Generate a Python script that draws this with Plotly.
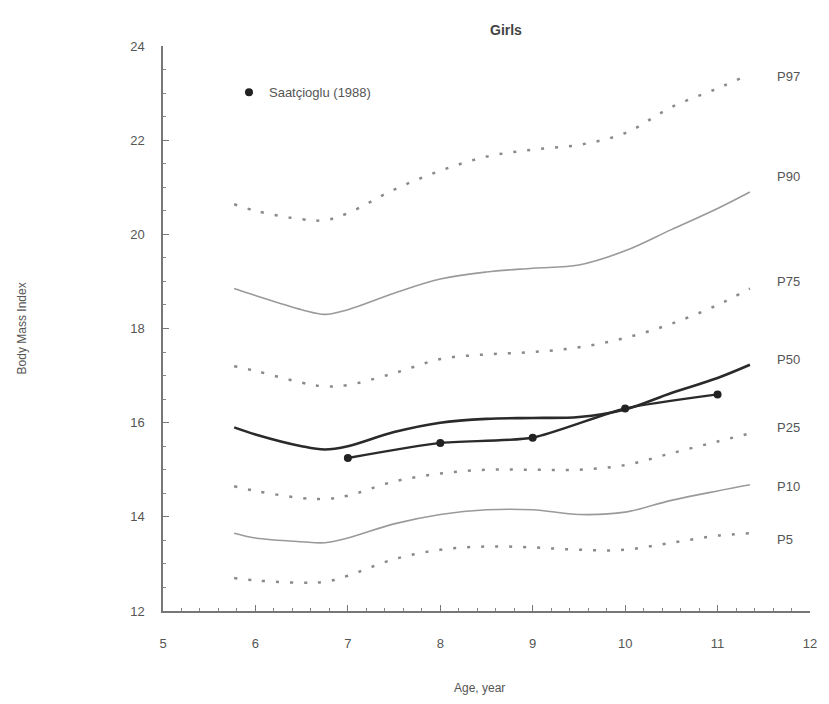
import plotly.graph_objects as go

# Age grid for percentile curves (years)
ages = [5.77, 6.0, 6.5, 6.75, 7.0, 7.5, 8.0, 8.5, 9.0, 9.5, 10.0, 10.5, 11.0, 11.35]

p97 = [20.64, 20.5, 20.32, 20.3, 20.45, 20.95, 21.35, 21.65, 21.8, 21.9, 22.15, 22.7, 23.1, 23.4]
p90 = [18.85, 18.7, 18.4, 18.3, 18.4, 18.75, 19.05, 19.2, 19.28, 19.35, 19.65, 20.1, 20.55, 20.9]
p75 = [17.2, 17.1, 16.85, 16.77, 16.8, 17.05, 17.35, 17.45, 17.5, 17.6, 17.8, 18.1, 18.5, 18.85]
p50 = [15.9, 15.75, 15.5, 15.43, 15.5, 15.8, 16.0, 16.08, 16.1, 16.12, 16.28, 16.63, 16.95, 17.23]
p25 = [14.65, 14.55, 14.4, 14.38, 14.45, 14.75, 14.92, 15.0, 15.0, 15.0, 15.1, 15.35, 15.6, 15.77]
p10 = [13.65, 13.55, 13.47, 13.45, 13.55, 13.85, 14.05, 14.15, 14.15, 14.05, 14.1, 14.35, 14.55, 14.68]
p5 = [12.7, 12.65, 12.6, 12.62, 12.75, 13.1, 13.3, 13.37, 13.35, 13.3, 13.3, 13.45, 13.6, 13.65]

# Saatcioglu (1988) reference data
saat_ages = [7, 8, 9, 10, 11]
saat_bmi = [15.25, 15.57, 15.68, 16.3, 16.6]

labels = ["P97", "P90", "P75", "P50", "P25", "P10", "P5"]
label_y = [23.36, 21.23, 19.0, 17.34, 15.89, 14.64, 13.51]
label_x = 11.62

x_ticks = [5, 6, 7, 8, 9, 10, 11, 12]
y_ticks = [12, 14, 16, 18, 20, 22, 24]

FONT = "Liberation Sans, Arial, sans-serif"
TXT = "#555555"
DOT = dict(color="#8a8a8a", width=2.5, dash="3px,11px")
THIN = dict(color="#9a9a9a", width=1.6)

fig = go.Figure()
series = [(p97, DOT), (p90, THIN), (p75, DOT), (p50, dict(color="#2a2a2a", width=2.6)),
          (p25, DOT), (p10, THIN), (p5, DOT)]
for ys, ln in series:
    fig.add_trace(go.Scatter(x=ages, y=ys, mode="lines", line=dict(shape="spline", **ln),
                             showlegend=False, hoverinfo="skip"))

fig.add_trace(go.Scatter(x=saat_ages, y=saat_bmi, mode="lines+markers",
                         line=dict(color="#2a2a2a", width=2.4, shape="spline", smoothing=0.6),
                         marker=dict(color="#222222", size=8), showlegend=False))
fig.add_trace(go.Scatter(x=[None], y=[None], mode="markers", name="Saatçioglu (1988)",
                         marker=dict(color="#222222", size=8), showlegend=True))

for lab, ly in zip(labels, label_y):
    fig.add_annotation(x=label_x, y=ly, text=lab, showarrow=False, xanchor="left",
                       yanchor="middle", font=dict(family=FONT, size=13, color=TXT))

fig.add_annotation(xref="paper", yref="paper", x=0.53, y=1.028, yanchor="middle", text="<b>Girls</b>",
                   showarrow=False, font=dict(family=FONT, size=14, color="#444444"))
fig.add_annotation(xref="paper", yref="paper", x=-0.232, y=0.5, text="Body Mass Index",
                   textangle=-90, showarrow=False, font=dict(family=FONT, size=12, color=TXT))
fig.add_annotation(xref="paper", yref="paper", x=0.489, y=-0.136, yanchor="middle", text="Age, year",
                   showarrow=False, font=dict(family=FONT, size=12, color=TXT))

axis_common = dict(showline=True, linecolor="#777777", linewidth=1.5, showgrid=False,
                   zeroline=False, ticks="inside", ticklen=6, tickcolor="#777777",
                   tickfont=dict(family=FONT, size=13, color=TXT), mirror=False)
fig.update_xaxes(range=[5, 12], tickvals=x_ticks, ticklabelstandoff=20,
                 minor=dict(dtick=0.2, ticks="inside", ticklen=3, tickcolor="#888888"),
                 **axis_common)
fig.update_yaxes(range=[12, 24], tickvals=y_ticks, ticklabelstandoff=14,
                 minor=dict(dtick=0.5, ticks="inside", ticklen=3, tickcolor="#888888"),
                 **axis_common)

fig.update_layout(
    width=829, height=704,
    margin=dict(l=163, r=12, t=46, b=93),
    plot_bgcolor="white", paper_bgcolor="white",
    legend=dict(x=0.102, y=0.918, yanchor="middle", xanchor="left",
                bgcolor="rgba(0,0,0,0)", font=dict(family=FONT, size=13, color=TXT)),
)

fig.write_html("out.html")
